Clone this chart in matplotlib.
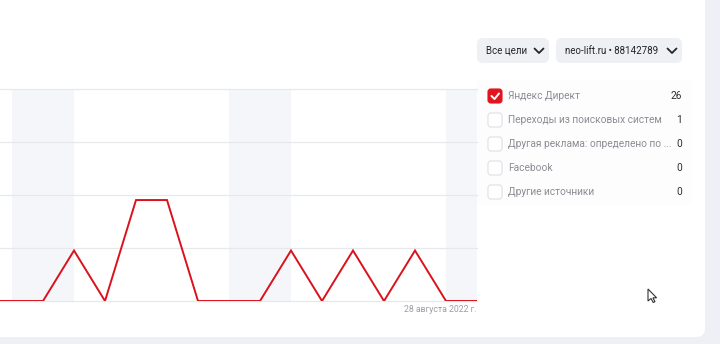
import datetime as dt
import numpy as np
import matplotlib
matplotlib.use("Agg")
import matplotlib.pyplot as plt
from matplotlib.patches import FancyBboxPatch, Rectangle, Polygon
from matplotlib.lines import Line2D

plt.rcParams['font.family'] = ['Roboto', 'DejaVu Sans']

# ---- data ----
days = list(range(12, 29))            # August 2022
values = [0, 0, 0, 1, 0, 2, 2, 0, 0, 0, 1, 0, 1, 0, 1, 0, 0]
date_label = "28 августа 2022 г."
sources = ["Яндекс Директ", "Переходы из поисковых систем",
           "Другая реклама: определено по ...", "Facebook", "Другие источники"]
counts = [26, 1, 0, 0, 0]
checked = [True, False, False, False, False]
goal_button = "Все цели"
counter_button = "neo-lift.ru • 88142789"

W, H = 720, 344
fig = plt.figure(figsize=(W / 100, H / 100), dpi=100)
fig.patch.set_facecolor("#eef0f5")

def fx(px):
    return px / W

def fy(py):
    return 1 - py / H

# white card
card = FancyBboxPatch((fx(-40), fy(337)), fx(745), 337 / H + 0.2,
                      boxstyle="round,pad=0,rounding_size=0.012",
                      transform=fig.transFigure, facecolor="white",
                      edgecolor="none", zorder=-2, mutation_aspect=W / H)
fig.patches.append(card)

# legend panel background
fig.patches.append(Rectangle((fx(477), fy(205)), fx(215), (205 - 80) / H,
                             transform=fig.transFigure, facecolor="#fdfdfe",
                             edgecolor="none", zorder=-1))

# ---- main chart ----
ax = fig.add_axes([0, fy(301), fx(477), (301 - 89) / H])
ax.set_zorder(3)
ax.set_facecolor("none")
ymax = 4.2
x0 = 13 - 12 / 31
ax.set_xlim(x0, days[-1])
ax.set_ylim(0, ymax)

for d in days:
    if dt.date(2022, 8, d).weekday() == 5:
        ax.axvspan(d, d + 2, color="#f5f6fa", zorder=0, lw=0)

for g in np.linspace(0, ymax, 5):
    ax.axhline(g, color="#e6e8ec", lw=0.9, zorder=1, clip_on=False)

ax.plot(days, values, color="#d9121c", lw=1.4, zorder=3, clip_on=True,
        solid_joinstyle="miter")
for s in ax.spines.values():
    s.set_visible(False)
ax.set_xticks([])
ax.set_yticks([])

fig.text(fx(477), fy(309), date_label, ha="right", va="center",
         fontsize=6.3, color="#9a9ea6")

# ---- buttons ----
def button(x1, x2, label):
    b = FancyBboxPatch((fx(x1), fy(63)), fx(x2 - x1), 25 / H,
                       boxstyle="round,pad=0,rounding_size=0.008",
                       transform=fig.transFigure, facecolor="#eef0f4",
                       edgecolor="none", zorder=1, mutation_aspect=W / H)
    fig.patches.append(b)
    fig.text(fx(x1 + 9), fy(50.5), label, ha="left", va="center",
             fontsize=7.0, color="#21242b")
    cx = x2 - 10
    fig.lines.append(Line2D([fx(cx - 4.5), fx(cx), fx(cx + 4.5)],
                            [fy(48.5), fy(53), fy(48.5)],
                            transform=fig.transFigure, color="#21242b",
                            lw=1.3, solid_capstyle="round",
                            solid_joinstyle="round"))

button(477, 549, goal_button)
button(556, 682, counter_button)

# ---- legend list ----
for i, (src, cnt, chk) in enumerate(zip(sources, counts, checked)):
    yc = 96 + 24 * i
    face = "#e0141e" if chk else "white"
    edge = "#e0141e" if chk else "#dcdfe4"
    box = FancyBboxPatch((fx(488), fy(yc + 7)), fx(14), 14 / H,
                         boxstyle="round,pad=0,rounding_size=0.004",
                         transform=fig.transFigure, facecolor=face,
                         edgecolor=edge, lw=0.8, zorder=2,
                         mutation_aspect=W / H)
    fig.patches.append(box)
    if chk:
        fig.lines.append(Line2D([fx(491.5), fx(494.5), fx(499)],
                                [fy(yc), fy(yc + 3), fy(yc - 2.5)],
                                transform=fig.transFigure, color="white",
                                lw=1.4, solid_capstyle="round",
                                solid_joinstyle="round", zorder=3))
    fig.text(fx(508), fy(yc), src, ha="left", va="center",
             fontsize=7.3, color="#8a8d93")
    fig.text(fx(682), fy(yc), str(cnt), ha="right", va="center",
             fontsize=7.3, color="#2b2e33")

# ---- mouse cursor ----
cur = np.array([(0, 0), (0, 12), (3, 9.5), (5.2, 13.5), (7, 12.7),
                (4.9, 8.8), (8.6, 8.8)])
pts = [(fx(648 + px), fy(289 + py)) for px, py in cur]
fig.patches.append(Polygon(pts, closed=True, transform=fig.transFigure,
                           facecolor="white", edgecolor="#333333", lw=0.8,
                           zorder=5))

fig.savefig("out.png", dpi=100)
